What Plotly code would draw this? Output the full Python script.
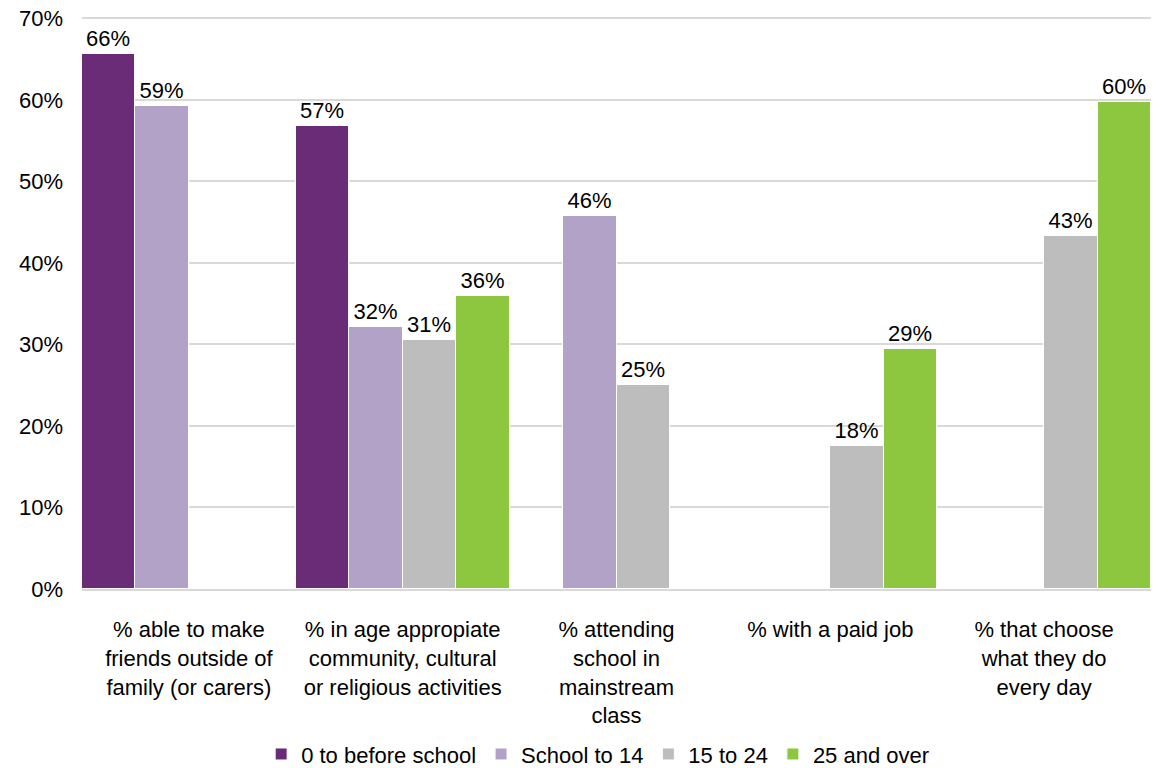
import plotly.graph_objects as go

categories = [
    "% able to make<br>friends outside of<br>family (or carers)",
    "% in age appropiate<br>community, cultural<br>or religious activities",
    "% attending<br>school in<br>mainstream<br>class",
    "% with a paid job",
    "% that choose<br>what they do<br>every day",
]
series_names = ["0 to before school", "School to 14", "15 to 24", "25 and over"]
v_0_before_school = [0.656, 0.568, None, None, None]
v_school_to_14 = [0.593, 0.321, 0.458, None, None]
v_15_to_24 = [None, 0.306, 0.250, 0.176, 0.433]
v_25_and_over = [None, 0.359, None, 0.294, 0.597]
y_ticks = [0, 0.1, 0.2, 0.3, 0.4, 0.5, 0.6, 0.7]
colors = ["#6B2C77", "#B3A2C8", "#BDBDBD", "#8DC63F"]

FONT = "Liberation Sans, Arial"
fig = go.Figure()
for name, vals, col in zip(series_names,
                           [v_0_before_school, v_school_to_14, v_15_to_24, v_25_and_over],
                           colors):
    fig.add_trace(go.Bar(
        x=categories, y=vals, name=name,
        marker=dict(color=col, line=dict(color="white", width=1)),
        texttemplate="%{y:.0%}", textposition="outside",
        textfont=dict(size=22, color="#000000", family=FONT),
        cliponaxis=False,
    ))

fig.update_layout(
    barmode="group", bargap=0, bargroupgap=0,
    width=1165, height=768,
    margin=dict(l=82, r=14, t=15, b=179, autoexpand=False),
    plot_bgcolor="white", paper_bgcolor="white",
    font=dict(family=FONT, size=22, color="#000000"),
    legend=dict(orientation="h", x=0.513, xref="container", xanchor="center",
                y=0.018, yref="container", yanchor="middle",
                font=dict(size=22), itemwidth=30, traceorder="normal"),
)
fig.update_yaxes(range=[0, 0.704], tickmode="array", tickvals=y_ticks,
                 tickformat=".0%", showgrid=True, ticklabeloverflow="allow",
                 gridcolor="#D9D9D9", gridwidth=1.5, zeroline=False, showline=False,
                 ticklabelstandoff=18, tickfont=dict(size=22), automargin=False)
fig.update_xaxes(showline=True, linecolor="#D9D9D9", linewidth=2, ticks="",
                 tickangle=0, ticklabelstandoff=20, tickfont=dict(size=22),
                 automargin=False)

# remove the default 8px body margin so the figure sits at the page origin
fig.write_html("out.html",
               config={"displayModeBar": False},
               post_script="document.body.style.margin='0';document.body.style.overflow='hidden';")
